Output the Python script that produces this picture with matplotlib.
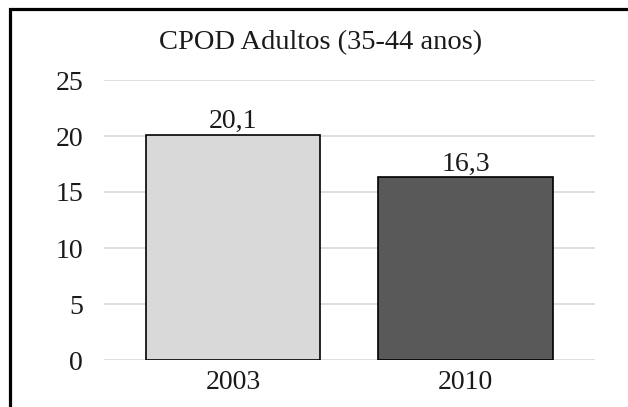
import numpy as np
import matplotlib.pyplot as plt
from matplotlib.patches import Rectangle

# chart data
years = ['2003', '2010']
cpod = [20.1, 16.3]
bar_colors = ['#D9D9D9', '#595959']
y_ticks = [0, 5, 10, 15, 20, 25]

plt.rcParams['font.family'] = ['Liberation Serif', 'DejaVu Serif']

W, H = 628, 407
fig = plt.figure(figsize=(W / 100, H / 100), dpi=100)
ax = fig.add_axes([104 / W, (H - 360) / H, (595 - 104) / W, (360 - 80) / H])

x = np.arange(len(years))
bars = ax.bar(x, cpod, width=0.75, color=bar_colors, edgecolor='black', linewidth=1.2, zorder=3)
for xi, v in zip(x, cpod):
    ax.text(xi, v + 0.6, ('%.1f' % v).replace('.', ','), ha='center', va='baseline',
            fontsize=20, color='#1a1a1a', zorder=4)

ax.set_xlim(-0.555, 1.557)
ax.set_ylim(0, 25)
ax.set_yticks(y_ticks)
ax.set_xticks(x)
ax.set_xticklabels(years)
ax.tick_params(axis='both', length=0, labelsize=20, colors='#1a1a1a')
ax.tick_params(axis='y', pad=15)
ax.tick_params(axis='x', pad=7)
ax.grid(axis='y', color='#D9D9D9', linewidth=1.2, zorder=0)
for s in ax.spines.values():
    s.set_visible(False)

fig.text(321 / W, 1 - 49 / H, 'CPOD Adultos (35-44 anos)', ha='center', va='baseline',
         fontsize=20.5, color='#1a1a1a')

# outer border (cut off on right and bottom)
fig.patches.append(Rectangle((9.5 / W, -0.1), 1.2, 1 - 9.5 / H + 0.1, transform=fig.transFigure,
                             fill=False, edgecolor='black', linewidth=2.3))

fig.savefig('out.png', dpi=100)
